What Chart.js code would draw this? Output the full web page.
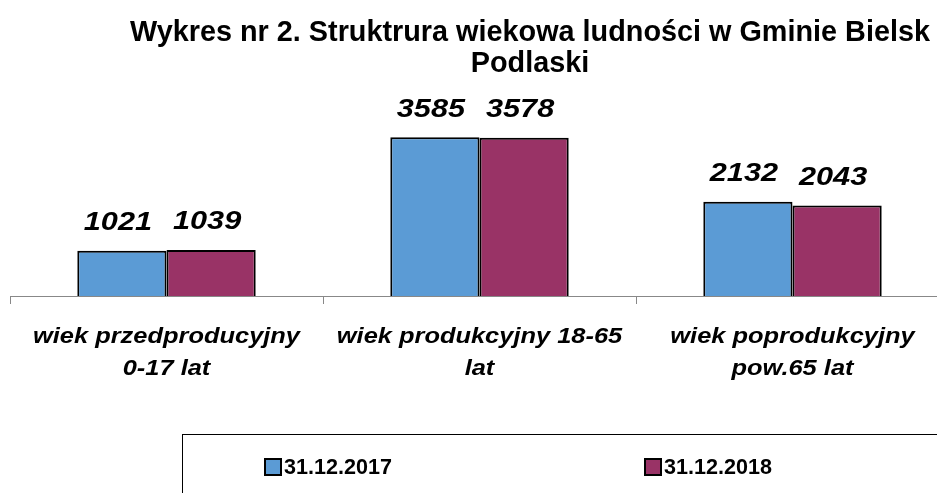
<!DOCTYPE html>
<html><head><meta charset="utf-8">
<script src="https://cdn.jsdelivr.net/npm/chart.js@4/dist/chart.umd.min.js"></script>
<style>html,body{margin:0;padding:0;background:#fff;overflow:hidden}#wrap{width:937px;height:493px;overflow:hidden}canvas{display:block}</style>
</head><body><div id="wrap"><canvas id="c" width="949" height="493"></canvas></div>
<script>
const titleLines = ["Wykres nr 2. Struktrura wiekowa ludności w Gminie Bielsk", "Podlaski"];
const categories = [["wiek przedproducyjny", "0-17 lat"], ["wiek produkcyjny 18-65", "lat"], ["wiek poprodukcyjny", "pow.65 lat"]];
const seriesNames = ["31.12.2017", "31.12.2018"];
const values2017 = [1021, 3585, 2132];
const values2018 = [1039, 3578, 2043];
const seriesColors = ["#5B9BD5", "#993366"];
const FONT = "'Liberation Sans', Arial, sans-serif";

function stretchedText(ctx, text, x, y, sx) {
  ctx.save();
  ctx.translate(x, y);
  ctx.scale(sx, 1);
  ctx.fillText(text, 0, 0);
  ctx.restore();
}

const titlePlugin = {
  id: 'customTitle',
  afterDraw(chart) {
    const ctx = chart.ctx;
    ctx.save();
    ctx.font = "bold 30px " + FONT;
    ctx.fillStyle = '#000';
    ctx.textAlign = 'center';
    ctx.textBaseline = 'middle';
    const sx = 800 / ctx.measureText(titleLines[0]).width;
    const ys = [33, 64];
    titleLines.forEach((t, i) => stretchedText(ctx, t, 530, ys[i], sx));
    ctx.restore();
  }
};

const categoryLabels = {
  id: 'categoryLabels',
  afterDraw(chart) {
    const ctx = chart.ctx;
    const xs = chart.scales.x;
    ctx.save();
    ctx.font = "italic bold 22px " + FONT;
    ctx.fillStyle = '#000';
    ctx.textAlign = 'center';
    ctx.textBaseline = 'middle';
    const sx = 267 / ctx.measureText(categories[0][0]).width;
    chart.data.labels.forEach((lines, i) => {
      const x = xs.getPixelForTick(i);
      lines.forEach((t, j) => stretchedText(ctx, t, x, xs.top + 40.5 + j * 32.5, sx));
    });
    ctx.restore();
  }
};

const valueLabels = {
  id: 'valueLabels',
  afterDatasetsDraw(chart) {
    const ctx = chart.ctx;
    ctx.save();
    ctx.font = "italic bold 26px " + FONT;
    ctx.fillStyle = '#000';
    ctx.textAlign = 'center';
    ctx.textBaseline = 'middle';
    chart.data.datasets.forEach((ds, di) => {
      chart.getDatasetMeta(di).data.forEach((bar, i) => {
        stretchedText(ctx, String(ds.data[i]), bar.x - 4, bar.y - 28, 1.18);
      });
    });
    ctx.restore();
  }
};

const legendBox = {
  id: 'legendBox',
  afterDraw(chart) {
    const ctx = chart.ctx;
    ctx.save();
    ctx.strokeStyle = '#000';
    ctx.lineWidth = 1;
    ctx.strokeRect(182.5, 434.5, 820, 100);
    const xs = [265, 645];
    ctx.font = "bold 22px " + FONT;
    ctx.textBaseline = 'middle';
    ctx.textAlign = 'left';
    chart.data.datasets.forEach((ds, i) => {
      ctx.fillStyle = ds.backgroundColor;
      ctx.fillRect(xs[i], 459, 16, 16);
      ctx.lineWidth = 2;
      ctx.strokeStyle = '#000';
      ctx.strokeRect(xs[i], 459, 16, 16);
      ctx.fillStyle = '#000';
      const w = ctx.measureText(ds.label).width;
      stretchedText(ctx, ds.label, xs[i] + 19, 468, 108 / w);
    });
    ctx.restore();
  }
};

new Chart(document.getElementById('c'), {
  type: 'bar',
  data: {
    labels: categories,
    datasets: [
      { label: seriesNames[0], data: values2017, backgroundColor: seriesColors[0], borderColor: '#000', borderWidth: 2 },
      { label: seriesNames[1], data: values2018, backgroundColor: seriesColors[1], borderColor: '#000', borderWidth: 2 }
    ]
  },
  options: {
    responsive: false,
    animation: false,
    devicePixelRatio: 1,
    layout: { padding: { left: 10, right: 0, top: 119, bottom: 107 } },
    datasets: { bar: { categoryPercentage: 0.57, barPercentage: 1 } },
    plugins: { legend: { display: false }, title: { display: false }, tooltip: { enabled: false } },
    scales: {
      y: { display: false, min: 0, max: 4000 },
      x: {
        afterFit(s) { s.height = 90; },
        border: { display: true, color: '#888', width: 1 },
        grid: { display: true, offset: true, drawOnChartArea: false, drawTicks: true, tickLength: 8, color: '#888' },
        ticks: { display: false, autoSkip: false, maxRotation: 0 }
      }
    }
  },
  plugins: [titlePlugin, valueLabels, categoryLabels, legendBox]
});
</script>
</body></html>
